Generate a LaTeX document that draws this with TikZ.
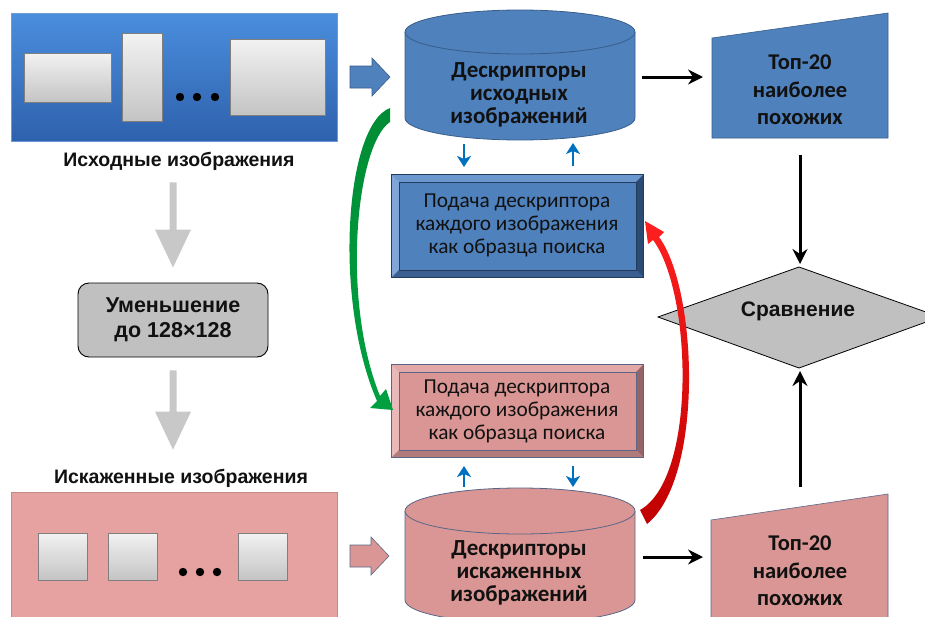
\documentclass[tikz,border=0pt]{standalone}
\usepackage{fontspec}
\setmainfont{Carlito}
\newfontfamily\arialf{Liberation Sans}
\usetikzlibrary{arrows.meta,calc}
\definecolor{bluefill}{HTML}{4F81BD}
\definecolor{blueedge}{HTML}{385D8A}
\definecolor{paneltop}{HTML}{4A8EDD}
\definecolor{panelbot}{HTML}{2E61AD}
\definecolor{paneledge}{HTML}{6A9AD8}
\definecolor{pinkfill}{HTML}{D99694}
\definecolor{pinkpanel}{HTML}{E6A2A1}
\definecolor{pinkedge}{HTML}{5A6688}
\definecolor{imgtop}{HTML}{F2F2F2}
\definecolor{imgbot}{HTML}{C4C4C4}
\definecolor{imgedge}{HTML}{7F7F7F}
\definecolor{arrowblue}{HTML}{0070C0}
\definecolor{grayarrow}{HTML}{C8C8C8}
\definecolor{txt}{HTML}{111111}
\definecolor{diamondfill}{HTML}{C0C0C0}
\definecolor{greenarr}{HTML}{00A040}
\definecolor{greendark}{HTML}{008C35}
\definecolor{redtop}{HTML}{FF2020}
\definecolor{redbot}{HTML}{C00000}
\definecolor{bevlightA}{HTML}{7FA6D7}
\definecolor{bevlightB}{HTML}{6C98CE}
\definecolor{bevdarkA}{HTML}{2C4B74}
\definecolor{bevdarkB}{HTML}{3A5F90}
\definecolor{bevborder}{HTML}{233C5E}
\definecolor{pbevlightA}{HTML}{E8B9B8}
\definecolor{pbevlightB}{HTML}{E2A9A8}
\definecolor{pbevdarkA}{HTML}{946466}
\definecolor{pbevdarkB}{HTML}{B27B7B}
\tikzset{
  lbl/.style={font=\arialf\bfseries\fontsize{19.5}{23}\selectfont, text=txt, inner sep=0},
  cyltext/.style={font=\bfseries\fontsize{23}{23}\selectfont, align=center, text=txt, inner sep=0},
  toptext/.style={font=\bfseries\fontsize{22.5}{27.5}\selectfont, align=center, text=txt, inner sep=0},
  subtext/.style={font=\fontsize{21.3}{23}\selectfont, align=center, text=txt, inner sep=0},
  imgrect/.style={draw=imgedge, top color=imgtop, bottom color=imgbot, inner sep=0, line width=0.8},
  grayarr/.style={fill=grayarrow},
  blackarr/.style={line width=3, -{Stealth[length=15pt,width=15pt,inset=5pt]}},
  smallarr/.style={draw=arrowblue, line width=2.8, -{Stealth[length=11pt,width=14pt,inset=3pt]}},
}
\begin{document}
\begin{tikzpicture}[x=1pt,y=-1pt]
\useasboundingbox (0,0) rectangle (925,616);
\clip (0,0) rectangle (925,616);

% ---------- source panel ----------
\node[draw=paneledge, top color=paneltop, bottom color=panelbot, minimum width=326, minimum height=128, inner sep=0] (panelA) at (174,77) {};
\node[imgrect, minimum width=87, minimum height=49] (a1) at (67.5,77.5) {};
\node[imgrect, minimum width=40, minimum height=88] (a2) at (142,77.5) {};
\node[imgrect, minimum width=95, minimum height=76] (a3) at (277.5,77) {};
\fill (180,97) circle (4.2) (197,97) circle (4.2) (215,97) circle (4.2);
\node[lbl] (lblA) at (179,161) {Исходные изображения};

% ---------- distorted panel ----------
\node[fill=pinkpanel, draw=pinkpanel!85!black, minimum width=326, minimum height=140, inner sep=0] (panelB) at (174,562) {};
\node[imgrect, minimum width=49, minimum height=47] (b1) at (62.5,556.5) {};
\node[imgrect, minimum width=49, minimum height=47] (b2) at (132.5,556.5) {};
\node[imgrect, minimum width=49, minimum height=47] (b3) at (262.5,556.5) {};
\fill (183,572) circle (4.2) (200,572) circle (4.2) (217,572) circle (4.2);
\node[lbl] (lblB) at (181,478) {Искаженные изображения};

% ---------- shrink box ----------
\node[draw=black, line width=0.9, fill=diamondfill, rounded corners=11, minimum width=190, minimum height=74,
      font=\arialf\bfseries\fontsize{21.5}{25}\selectfont, align=center, text=txt] (shrink) at (173,320) {Уменьшение\\до 128×128};
% gray block arrows: label -> box -> label
\coordinate (g1s) at ($(lblA.south -| shrink.north)+(0,12)$);
\coordinate (g1e) at ($(shrink.north)+(0,-15)$);
\coordinate (g2s) at ($(shrink.south)+(0,13)$);
\coordinate (g2e) at ($(lblB.north -| shrink.south)+(0,-19)$);
\fill[grayarr] ($(g1s)+(-3.5,0)$) -- ($(g1s)+(3.5,0)$) -- ($(g1e)+(3.5,-38)$) -- ($(g1e)+(18,-38)$)
   -- (g1e) -- ($(g1e)+(-18,-38)$) -- ($(g1e)+(-3.5,-38)$) -- cycle;
\fill[grayarr] ($(g2s)+(-3.5,0)$) -- ($(g2s)+(3.5,0)$) -- ($(g2e)+(3.5,-38)$) -- ($(g2e)+(18,-38)$)
   -- (g2e) -- ($(g2e)+(-18,-38)$) -- ($(g2e)+(-3.5,-38)$) -- cycle;

% ---------- block arrows ----------
\draw[fill=bluefill, draw=blueedge, line width=0.6] (350,66) -- (372,66) -- (372,58) -- (390,77) -- (372,96) -- (372,88) -- (350,88) -- cycle;
\draw[fill=pinkfill, draw=pinkedge, line width=0.6] (350,545) -- (371,545) -- (371,537) -- (389,556) -- (371,575) -- (371,567) -- (350,567) -- cycle;

% ---------- cylinder 1 ----------
\draw[fill=bluefill, draw=blueedge, line width=0.8] (405,32) -- (405,118) arc[start angle=180, end angle=0, x radius=115, y radius=22] -- (635,32);
\draw[fill=bluefill, draw=blueedge, line width=0.8] (520,32) ellipse [x radius=115, y radius=22];
\node[cyltext] (cylA) at (519,95) {Дескрипторы\\исходных\\изображений};

% ---------- cylinder 2 ----------
\draw[fill=pinkfill, draw=pinkedge, line width=0.8] (405,511) -- (405,600) arc[start angle=180, end angle=0, x radius=115, y radius=23] -- (635,511);
\draw[fill=pinkfill, draw=pinkedge, line width=0.8] (520,511) ellipse [x radius=115, y radius=23];
\node[cyltext] (cylB) at (519,573) {Дескрипторы\\искаженных\\изображений};

% ---------- top-20 shapes ----------
\draw[fill=bluefill, draw=blueedge, line width=0.6] (712,38) -- (888,13) -- (888,138) -- (712,138) -- cycle;
\node[toptext] (topA) at (800,90) {Топ-20\\наиболее\\похожих};
\draw[fill=pinkfill, draw=pinkedge, line width=0.6] (711,520) -- (888,494) -- (888,630) -- (711,630) -- cycle;
\node[toptext] (topB) at (800,571) {Топ-20\\наиболее\\похожих};
\coordinate (cylAe) at (642,77);
\coordinate (topAw) at (703,77);
\coordinate (cylBe) at (643,557);
\coordinate (topBw) at (703,557);
\draw[blackarr] (cylAe) -- (topAw);
\draw[blackarr] (cylBe) -- (topBw);

% ---------- diamond ----------
\draw[fill=diamondfill, draw=black, line width=0.8] (658,317) -- (799,267) -- (940,317) -- (799,368) -- cycle;
\node[font=\arialf\bfseries\fontsize{21}{24}\selectfont, text=txt, inner sep=0] (cmp) at (798,311) {Сравнение};
\coordinate (topAs) at (800,155);
\coordinate (cmpN) at (800,264);
\coordinate (topBn) at (800,487);
\coordinate (cmpS) at (800,371);
\draw[blackarr] (topAs) -- (cmpN);
\draw[blackarr] (topBn) -- (cmpS);

% ---------- bevel box (blue) ----------
\node[fill=bluefill, minimum width=251, minimum height=102, inner sep=0] (subA) at (517.5,226) {};
\fill[bevlightB] (subA.north west) -- (subA.north east) -- ++(-7,7) -- ($(subA.north west)+(7,7)$) -- cycle;
\fill[bevlightA] (subA.north west) -- ($(subA.north west)+(7,7)$) -- ($(subA.south west)+(7,-7)$) -- (subA.south west) -- cycle;
\fill[bevdarkA] (subA.north east) -- (subA.south east) -- ($(subA.south east)+(-7,-7)$) -- ($(subA.north east)+(-7,7)$) -- cycle;
\fill[bevdarkB] (subA.south west) -- (subA.south east) -- ($(subA.south east)+(-7,-7)$) -- ($(subA.south west)+(7,-7)$) -- cycle;
\draw[bevborder, line width=0.9] (subA.north west) rectangle (subA.south east);
\draw[bevborder, line width=0.4] ($(subA.north west)+(7,7)$) rectangle ($(subA.south east)+(-7,-7)$);
\node[subtext] (subAt) at (517,225) {Подача дескриптора\\каждого изображения\\как образца поиска};

% ---------- bevel box (pink) ----------
\node[fill=pinkfill, minimum width=251, minimum height=92, inner sep=0] (subB) at (517.5,411) {};
\fill[pbevlightB] (subB.north west) -- (subB.north east) -- ++(-7,7) -- ($(subB.north west)+(7,7)$) -- cycle;
\fill[pbevlightA] (subB.north west) -- ($(subB.north west)+(7,7)$) -- ($(subB.south west)+(7,-7)$) -- (subB.south west) -- cycle;
\fill[pbevdarkA] (subB.north east) -- (subB.south east) -- ($(subB.south east)+(-7,-7)$) -- ($(subB.north east)+(-7,7)$) -- cycle;
\fill[pbevdarkB] (subB.south west) -- (subB.south east) -- ($(subB.south east)+(-7,-7)$) -- ($(subB.south west)+(7,-7)$) -- cycle;
\draw[pinkedge, line width=0.9] (subB.north west) rectangle (subB.south east);
\draw[pinkedge, line width=0.4] ($(subB.north west)+(7,7)$) rectangle ($(subB.south east)+(-7,-7)$);
\node[subtext] (subBt) at (517,411) {Подача дескриптора\\каждого изображения\\как образца поиска};

% ---------- small blue arrows ----------
\draw[smallarr] (464,144) -- (464,167);
\draw[smallarr] (573,166) -- (573,143);
\draw[smallarr] (464,487) -- (464,466);
\draw[smallarr] (573,466) -- (573,487);

% ---------- green curved arrow ----------
\shade[top color=greendark, bottom color=greenarr]
  (390,108) .. controls (345,125) and (333,300) .. (377,401)
  -- (370,408) -- (393,410) -- (386,389) -- (380,396)
  .. controls (341,300) and (356,145) .. (390,122) -- cycle;

% ---------- red curved arrow ----------
\shade[top color=redtop, bottom color=redbot]
  (647,524) .. controls (704,478) and (698,290) .. (659,237)
  -- (664,232) -- (645,221) -- (648,244) -- (653,240)
  .. controls (692,292) and (697,478) .. (640,510) -- cycle;
\end{tikzpicture}
\end{document}
